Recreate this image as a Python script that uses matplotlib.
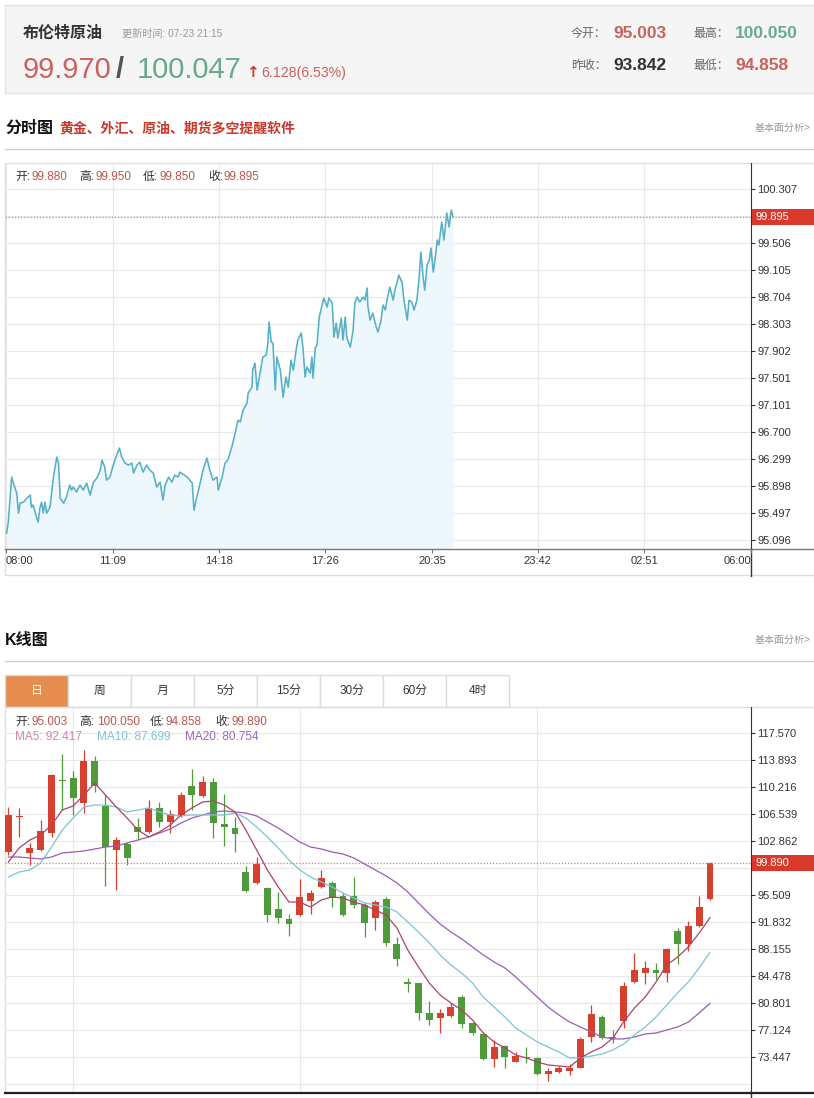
# -*- coding: utf-8 -*-
"""
布伦特原油 行情页：分时图 + 日K线图
"""

import matplotlib
matplotlib.use("Agg")
import matplotlib.pyplot as plt
from matplotlib.patches import Rectangle

plt.rcParams["font.family"] = ["Liberation Sans", "Noto Sans CJK SC", "DejaVu Sans"]

W, H = 814, 1098

# ── 1. 数据 ────────────────────────────────────────────
name = "布伦特原油"
update_time = "更新时间: 07-23 21:15"
bid, ask = "99.970", "100.047"
change = "6.128(6.53%)"
quote_labels = ["今开：", "最高：", "昨收：", "最低："]
quote_values = ["95.003", "100.050", "93.842", "94.858"]

# 分时：距 08:00 的分钟数 / 价格
intra_min = [1, 4, 10, 13, 19, 22, 25, 31, 37, 43,
             45, 48, 54, 57, 60, 63, 66, 69, 72, 78,
             84, 90, 93, 96, 102, 107, 113, 116, 119, 125,
             131, 137, 143, 149, 155, 161, 167, 170, 175, 178,
             184, 190, 196, 201, 205, 211, 217, 223, 226, 232,
             237, 243, 249, 255, 261, 267, 273, 278, 282, 288,
             294, 299, 305, 308, 321, 330, 333, 338, 344, 349,
             356, 361, 367, 374, 376, 383, 388, 393, 400, 406,
             411, 415, 420, 427, 429, 436, 437, 441, 445, 450,
             455, 461, 464, 466, 470, 473, 477, 480, 486, 491,
             496, 500, 505, 509, 514, 517, 523, 526, 530, 533,
             539, 542, 544, 548, 551, 555, 560, 563, 569, 572,
             578, 581, 585, 588, 594, 597, 601, 604, 610, 615,
             618, 622, 627, 633, 636, 640, 641, 645, 650, 654,
             659, 664, 668, 672, 675, 680, 686, 689, 693, 696,
             702, 705, 711, 714, 719, 723, 728, 732, 735, 739,
             742, 746, 750, 753, 757, 760, 764, 767, 772, 776,
             781, 785, 789, 792]
intra_px = [95.198, 95.361, 96.030, 95.940, 95.792, 95.495, 95.643, 95.658, 95.718, 95.762,
            95.584, 95.614, 95.436, 95.361, 95.569, 95.658, 95.495, 95.658, 95.495, 95.584,
            96.030, 96.327, 96.238, 95.718, 95.643, 95.733, 95.911, 95.837, 95.881, 95.807,
            95.911, 95.837, 95.940, 95.762, 95.955, 96.015, 96.134, 96.282, 96.178, 95.985,
            96.030, 96.208, 96.356, 96.460, 96.327, 96.238, 96.208, 96.238, 96.089, 96.208,
            96.252, 96.104, 96.208, 96.134, 96.089, 95.881, 95.955, 95.688, 95.911, 96.030,
            95.955, 96.059, 96.030, 96.104, 96.030, 95.940, 95.539, 95.733, 95.940, 96.134,
            96.312, 96.134, 95.985, 96.030, 95.837, 96.030, 96.238, 96.282, 96.475, 96.683,
            96.876, 96.846, 97.025, 97.129, 97.277, 97.366, 97.619, 97.723, 97.322, 97.574,
            97.812, 97.842, 98.020, 98.332, 98.035, 98.020, 97.322, 97.812, 97.619, 97.218,
            97.515, 97.366, 97.767, 97.619, 97.916, 98.064, 98.168, 97.960, 97.515, 97.663,
            97.574, 97.812, 97.500, 97.946, 97.990, 98.406, 98.584, 98.688, 98.554, 98.688,
            98.614, 98.109, 98.317, 98.094, 98.391, 98.064, 98.406, 98.094, 97.960, 98.213,
            98.614, 98.703, 98.629, 98.703, 98.658, 98.837, 98.584, 98.361, 98.465, 98.317,
            98.183, 98.332, 98.584, 98.510, 98.658, 98.851, 98.658, 98.807, 98.926, 99.030,
            98.911, 98.658, 98.361, 98.658, 98.629, 98.510, 98.658, 98.985, 99.371, 99.000,
            98.807, 99.178, 99.252, 99.431, 99.074, 99.252, 99.550, 99.475, 99.817, 99.550,
            99.951, 99.743, 99.995, 99.895]
intra_ohlc = ["99.880", "99.950", "99.850", "99.895"]
intra_ticks = ["95.096", "95.497", "95.898", "96.299", "96.700", "97.101", "97.501",
               "97.902", "98.303", "98.704", "99.105", "99.506", "99.906", "100.307"]
time_labels = ["08:00", "11:09", "14:18", "17:26", "20:35", "23:42", "02:51", "06:00"]

# 日K
opens = [101.36, 106.10, 101.23, 101.64, 103.95, 111.17, 111.44, 108.04, 113.76, 107.63,
         101.64, 102.45, 104.77, 104.09, 107.36, 105.45, 106.40, 110.35, 108.99, 110.90,
         105.18, 104.63, 98.64, 97.14, 96.46, 93.60, 92.24, 92.78, 94.69, 96.60,
         97.14, 95.37, 95.37, 94.15, 92.37, 94.96, 88.83, 83.66, 83.52, 79.44,
         78.76, 79.03, 81.61, 78.08, 76.58, 73.17, 74.94, 72.76, 73.44, 73.31,
         71.13, 71.40, 71.54, 71.95, 76.17, 78.89, 76.05, 78.35, 83.66, 84.88,
         85.29, 84.88, 90.60, 88.83, 91.29, 95.003]
closes = [106.40, 106.13, 101.91, 104.22, 111.85, 111.03, 108.72, 113.76, 110.35, 102.04,
          103.00, 100.55, 104.09, 107.36, 105.45, 106.54, 109.13, 109.13, 110.90, 105.31,
          104.77, 103.81, 96.05, 99.73, 92.78, 92.37, 91.56, 95.24, 95.78, 97.82,
          95.10, 92.78, 94.15, 91.69, 94.55, 88.97, 86.79, 83.39, 79.44, 78.48,
          79.44, 80.25, 77.94, 76.71, 73.17, 74.81, 73.44, 73.58, 73.31, 71.13,
          71.54, 71.95, 71.95, 75.90, 79.30, 76.03, 76.00, 83.11, 85.29, 85.57,
          84.88, 88.15, 88.83, 91.29, 93.87, 99.890]
highs = [107.49, 107.36, 102.59, 105.72, 111.99, 114.71, 112.40, 115.25, 114.44, 109.13,
         103.41, 102.73, 106.00, 108.45, 108.17, 107.08, 109.53, 112.67, 111.71, 111.44,
         109.26, 106.13, 99.46, 100.68, 96.60, 95.92, 92.92, 97.69, 96.19, 98.91,
         97.41, 95.78, 97.96, 94.42, 94.83, 95.24, 89.79, 84.20, 83.52, 81.02,
         79.98, 80.80, 81.89, 78.21, 76.85, 75.76, 75.08, 74.13, 74.81, 73.44,
         71.95, 72.22, 72.49, 76.17, 80.53, 79.16, 77.12, 83.66, 87.61, 86.52,
         86.25, 88.29, 91.01, 91.97, 95.37, 100.050]
lows = [100.95, 103.41, 99.59, 101.50, 103.41, 107.08, 106.40, 106.67, 109.53, 96.73,
        96.19, 99.59, 103.00, 103.95, 104.77, 103.95, 106.13, 107.08, 108.85, 103.27,
        102.18, 101.36, 95.92, 97.01, 91.83, 91.69, 89.92, 92.65, 92.92, 96.46,
        93.87, 92.65, 93.74, 89.79, 90.74, 88.56, 85.84, 82.30, 78.48, 77.80,
        76.71, 78.89, 77.39, 76.44, 73.04, 72.08, 71.95, 72.70, 72.63, 70.99,
        70.18, 71.26, 70.99, 71.90, 75.49, 75.90, 75.35, 77.39, 83.52, 83.39,
        84.07, 83.66, 86.11, 87.88, 91.15, 94.858]
ma5 = [100.00, 101.91, 103.00, 103.68, 105.04, 107.08, 107.63, 109.13, 110.76, 109.13,
       107.49, 106.00, 104.36, 103.41, 104.09, 105.04, 106.40, 107.36, 108.17, 108.31,
       107.76, 106.81, 104.36, 101.64, 98.91, 96.60, 94.55, 94.55, 93.87, 94.83,
       95.24, 95.10, 94.55, 94.15, 93.46, 92.78, 91.01, 88.02, 85.70, 83.52,
       81.89, 80.80, 79.85, 78.48, 76.71, 75.49, 74.67, 73.72, 73.31, 72.76,
       72.36, 72.22, 72.08, 73.31, 74.13, 74.81, 76.03, 78.21, 80.12, 81.61,
       83.66, 85.97, 87.06, 88.43, 90.33, 92.417]
ma10 = [97.96, 98.64, 98.91, 99.87, 102.04, 104.36, 105.99, 107.49, 107.76, 107.76,
        107.49, 106.81, 107.08, 107.36, 106.81, 106.40, 106.27, 106.40, 106.40, 106.40,
        106.40, 106.67, 105.99, 104.77, 103.41, 101.91, 100.27, 98.91, 97.96, 97.28,
        96.60, 95.78, 95.10, 94.42, 94.15, 93.87, 93.19, 91.83, 90.47, 88.97,
        87.34, 85.97, 84.88, 83.52, 81.61, 80.25, 78.89, 77.39, 76.44, 75.49,
        74.81, 74.13, 73.31, 73.31, 73.58, 73.85, 74.40, 75.21, 76.44, 77.53,
        78.89, 80.53, 82.16, 83.66, 85.57, 87.699]
ma20 = [100.68, 100.68, 100.55, 100.41, 100.68, 101.23, 101.36, 101.50, 101.77, 102.04,
        102.18, 102.59, 103.00, 103.41, 103.95, 104.50, 105.31, 105.99, 106.40, 106.81,
        106.95, 106.81, 106.67, 106.27, 105.45, 104.63, 103.68, 102.73, 102.04, 101.77,
        101.36, 101.09, 100.55, 99.73, 98.91, 98.10, 97.14, 95.92, 94.42, 92.92,
        91.56, 90.47, 89.52, 88.43, 87.34, 86.38, 85.57, 84.34, 82.98, 81.61,
        80.25, 79.16, 78.21, 77.53, 76.85, 76.17, 75.90, 75.90, 76.17, 76.58,
        76.71, 77.12, 77.53, 78.21, 79.44, 80.754]
k_ticks = ["73.447", "77.124", "80.801", "84.478", "88.155", "91.832", "95.509",
           "99.185", "102.862", "106.539", "110.216", "113.893", "117.570"]
month_starts = [6, 27, 49]
tabs = ["日", "周", "月", "5分", "15分", "30分", "60分", "4时"]

RED, GREEN = "#d6402e", "#4f9a3b"
RED_TXT, GREEN_TXT = "#c9625c", "#6aa98b"
GRID = "#e8e8e8"


def frac(x0, y0, x1, y1):
    return [x0 / W, 1 - y1 / H, (x1 - x0) / W, (y1 - y0) / H]


fig = plt.figure(figsize=(W / 100, H / 100), dpi=100)
fig.patch.set_facecolor("white")

bg = fig.add_axes([0, 0, 1, 1], zorder=-1)
top = fig.add_axes([0, 0, 1, 1], zorder=10)
for a in (bg, top):
    a.set_xlim(0, W)
    a.set_ylim(H, 0)
    a.axis("off")
top.patch.set_alpha(0)


# ── 2. 顶部报价栏 ──────────────────────────────────────
bg.add_patch(Rectangle((5, 5), 812, 88, fc="#f5f5f5", ec="#e2e2e2", lw=1))
top.text(23, 33, name, fontsize=11.5, fontweight="bold", color="#333", va="center")
top.text(122, 34, update_time, fontsize=7.3, color="#999", va="center")
top.text(23, 78, bid, fontsize=21, color=RED_TXT, va="baseline")
top.text(116, 78, "/", fontsize=21, color="#555", va="baseline", fontweight="bold")
top.text(137, 78, ask, fontsize=21, color=GREEN_TXT, va="baseline")
top.text(246, 77, "↑", fontsize=11, color="#d9302a", va="baseline", fontweight="bold",
         family="DejaVu Sans")
top.text(261, 77, change, fontsize=10.2, color=RED_TXT, va="baseline")

q_colors = [RED_TXT, GREEN_TXT, "#333333", RED_TXT]
for k, (lab, val) in enumerate(zip(quote_labels, quote_values)):
    row, col = divmod(k, 2)
    y = 34 + row * 32
    xl = 571 + col * 122
    top.text(xl, y, lab, fontsize=8.6, color="#666", va="center")
    top.text(xl + 42, y, val, fontsize=12.5, fontweight="bold", color=q_colors[k], va="center")


def section_title(y, title, sub=None):
    top.text(5, y, title, fontsize=11.5, fontweight="bold", color="#111", va="center")
    if sub:
        top.text(59, y, sub, fontsize=10, fontweight="bold", color="#c8392b", va="center")
    top.text(755, y, "基本面分析>", fontsize=7.2, color="#999", va="center")
    bg.plot([5, W], [y + 20.5, y + 20.5], color="#cfcfcf", lw=1)


def price_tag(ax, val, txt):
    ax.axhline(val, color="#e07a6d", lw=0.9, ls=(0, (1, 1.5)))
    # 被价格标签盖住的刻度文字不显示
    ticks = ax.get_yticks()
    step = abs(ticks[1] - ticks[0])
    for lbl, pos in zip(ax.get_yticklabels(), ticks):
        if abs(pos - val) < step / 2:
            lbl.set_visible(False)
    yd = H - ax.transData.transform((0, val))[1]
    top.add_patch(Rectangle((752, yd - 8), 64, 16, fc="#d8392b", ec="none"))
    top.text(755, yd, txt, color="white", fontsize=8, va="center")


def style_axis(ax, bottom_color, bottom_lw):
    ax.set_facecolor("none")
    ax.spines["top"].set_visible(False)
    ax.spines["left"].set_visible(False)
    ax.spines["right"].set_color("#333")
    ax.spines["bottom"].set_color(bottom_color)
    ax.spines["bottom"].set_linewidth(bottom_lw)
    ax.yaxis.tick_right()
    ax.tick_params(axis="y", direction="out", length=3, width=0.8, color="#333",
                   labelsize=8, labelcolor="#333", pad=1.5)
    ax.grid(color=GRID, lw=0.8)
    ax.set_axisbelow(True)


# ── 3. 分时图 ──────────────────────────────────────────
section_title(128, "分时图", "黄金、外汇、原油、期货多空提醒软件")
bg.add_patch(Rectangle((5, 163), 812, 412, fc="none", ec="#dedede", lw=1))

ax1 = fig.add_axes(frac(5, 162.5, 751, 549))
style_axis(ax1, "#777", 1.0)
ax1.set_xlim(-1.8, 1320)
ax1.set_ylim(94.962, 100.701)
ax1.fill_between(intra_min, intra_px, 94.962, color="#eef7fb", lw=0)
ax1.plot(intra_min, intra_px, color="#56b1c6", lw=1.15)

ax1.set_yticks([float(t) for t in intra_ticks])
ax1.set_yticklabels(intra_ticks)
t_pos = [((int(t[:2]) * 60 + int(t[3:])) - 480) % 1440 for t in time_labels]
ax1.set_xticks(t_pos)
ax1.set_xticklabels(time_labels)
ax1.tick_params(axis="x", direction="out", length=3, width=0.8, color="#777",
                labelsize=8, labelcolor="#333", pad=2)
xl = ax1.get_xticklabels()
xl[0].set_ha("left")
xl[-1].set_ha("right")
bg.plot([751, W], [549, 549], color="#777", lw=1)
bg.plot([751, 751], [549, 576], color="#333", lw=1)

price_tag(ax1, intra_px[-1], f"{intra_px[-1]:.3f}")

ohlc_names = ["开:", "高:", "低:", "收:"]
for lab, val, xl_, xv in zip(ohlc_names, intra_ohlc, [15, 79, 143, 208], [32, 96, 159, 224]):
    top.text(xl_, 177, lab, fontsize=8.5, color="#333", va="center")
    top.text(xv, 177, val, fontsize=8.5, color="#b8564e", va="center")


# ── 4. K线图 ───────────────────────────────────────────
section_title(640, "K线图")
for i, t in enumerate(tabs):
    x0 = 5 + 63 * i
    sel = i == 0
    bg.add_patch(Rectangle((x0, 675), 63, 32, fc="#e58d4e" if sel else "white",
                           ec="#dcdcdc", lw=1))
    top.text(x0 + 31.5, 691, t, ha="center", va="center", fontsize=8.5,
             color="white" if sel else "#333")
bg.plot([5, W], [707, 707], color="#dedede", lw=1)
bg.plot([5, 5], [707, 1093], color="#dedede", lw=1)

ax2 = fig.add_axes(frac(5, 707, 751, 1093))
style_axis(ax2, "#222", 1.6)
ax2.set_xlim(-0.31, 68.8)
ax2.set_ylim(68.54, 121.11)

for i, (o, h, l, c) in enumerate(zip(opens, highs, lows, closes)):
    col = RED if c >= o else GREEN
    ax2.vlines(i, l, h, color=col, lw=0.9)
    ax2.bar(i, max(abs(c - o), 0.15), bottom=min(o, c), width=0.64, color=col, lw=0)

idx = list(range(len(closes)))
ax2.plot(idx, ma20, color="#9a5cb4", lw=0.9)
ax2.plot(idx, ma10, color="#7cc4d4", lw=0.9)
ax2.plot(idx, ma5, color="#b0406a", lw=0.9)

k_pos = [float(t) for t in k_ticks]
ax2.set_yticks(k_pos)
ax2.set_yticklabels(k_ticks)
ax2.axhline(k_pos[0] - (k_pos[1] - k_pos[0]), color=GRID, lw=0.8, zorder=0)
ax2.set_xticks(month_starts)
ax2.tick_params(axis="x", length=0, labelbottom=False)
bg.plot([751, W], [1093, 1093], color="#222", lw=1.6)
bg.plot([751, 751], [1093, H], color="#333", lw=1)

price_tag(ax2, closes[-1], f"{closes[-1]:.3f}")

k_vals = [opens[-1], highs[-1], lows[-1], closes[-1]]
for lab, val, xl_, xv in zip(ohlc_names, k_vals, [15, 79, 150, 215], [31, 97, 166, 231]):
    top.text(xl_, 722, lab, fontsize=8.5, color="#333", va="center")
    top.text(xv, 722, f"{val:.3f}", fontsize=8.5, color="#b8564e", va="center")
for lab, series, x, col in zip(["MA5", "MA10", "MA20"], [ma5, ma10, ma20],
                               [15, 97, 185], ["#cf86a6", "#7fc2d3", "#9a66bf"]):
    top.text(x, 737, f"{lab}: {series[-1]:.3f}", fontsize=8.5, color=col, va="center")

plt.savefig("out.png", dpi=100)
plt.close()
